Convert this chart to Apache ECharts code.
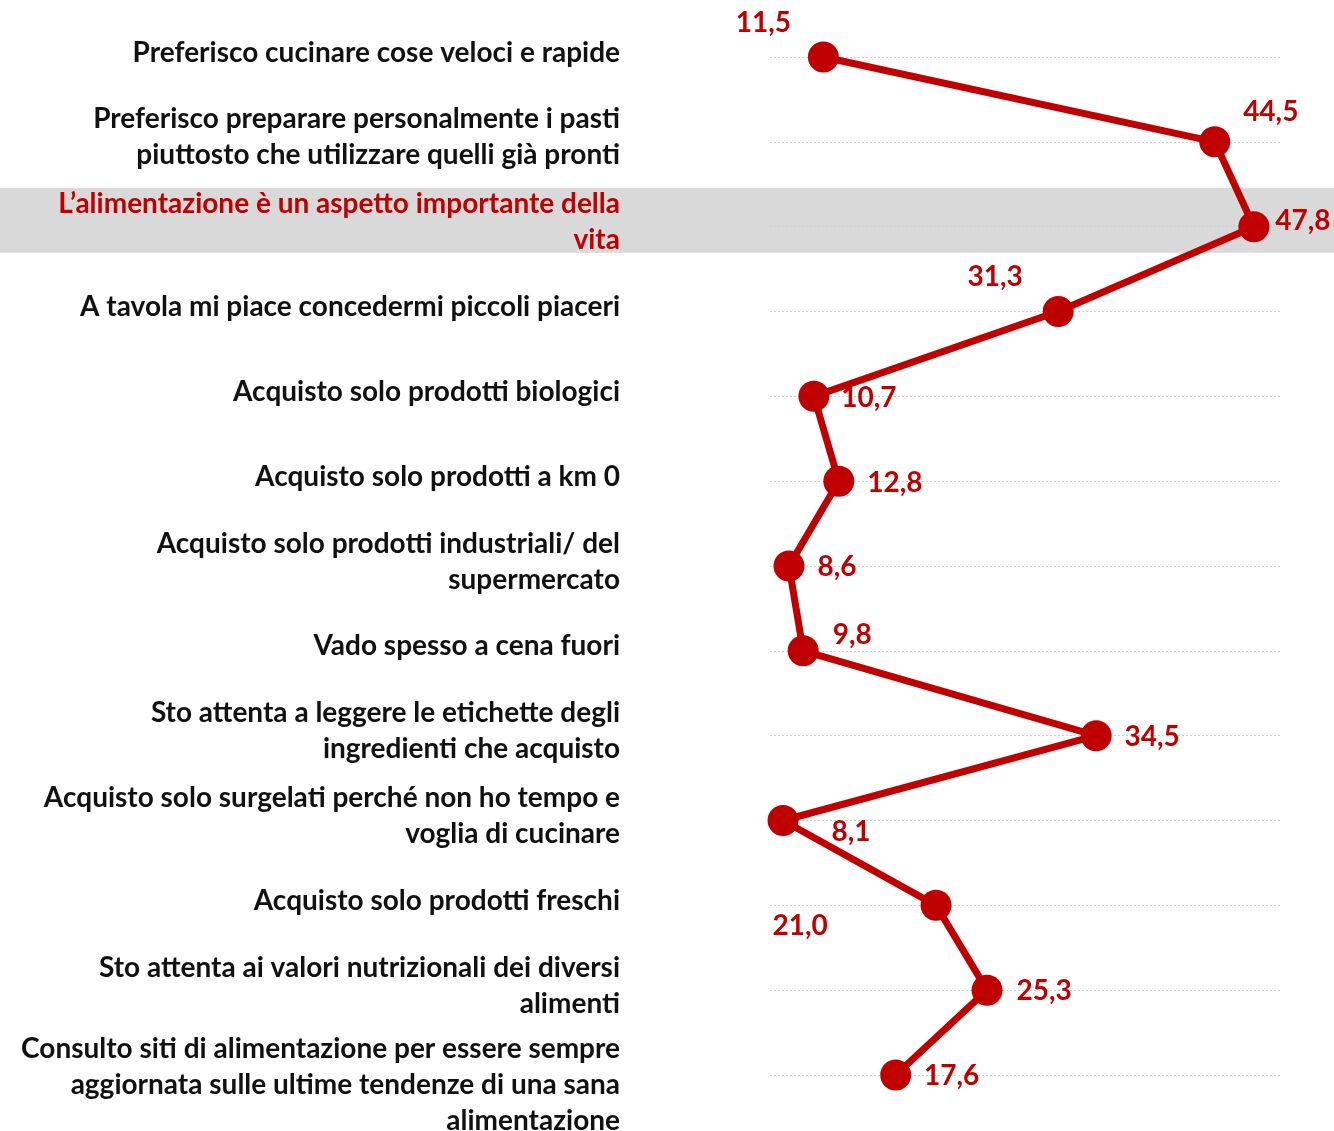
<!DOCTYPE html>
<html>
<head>
<meta charset="utf-8">
<script src="https://cdn.jsdelivr.net/npm/echarts@6/dist/echarts.min.js"></script>
<style>
  html, body { margin: 0; padding: 0; background: #ffffff; }
  #chart { width: 1334px; height: 1131px; }
</style>
</head>
<body>
<div id="chart"></div>
<script>
// Statements about food habits (top to bottom) and share of respondents (%)
const categories = [
  'Preferisco cucinare cose veloci e rapide',
  'Preferisco preparare personalmente i pasti\npiuttosto che utilizzare quelli già pronti',
  'L’alimentazione è un aspetto importante della\nvita',
  'A tavola mi piace concedermi piccoli piaceri',
  'Acquisto solo prodotti biologici',
  'Acquisto solo prodotti a km 0',
  'Acquisto solo prodotti industriali/ del\nsupermercato',
  'Vado spesso a cena fuori',
  'Sto attenta a leggere le etichette degli\ningredienti che acquisto',
  'Acquisto solo surgelati perché non ho tempo e\nvoglia di cucinare',
  'Acquisto solo prodotti freschi',
  'Sto attenta ai valori nutrizionali dei diversi\nalimenti',
  'Consulto siti di alimentazione per essere sempre\naggiornata sulle ultime tendenze di una sana\nalimentazione'
];
const values = [11.5, 44.5, 47.8, 31.3, 10.7, 12.8, 8.6, 9.8, 34.5, 8.1, 21.0, 25.3, 17.6];
const highlighted = 'L’alimentazione è un aspetto importante della\nvita';

// where each value label sits relative to its point
const labelNudge = [
  [-60, -34], [56, -30], [49, -6], [-63, -35], [55, 2], [56, 2], [48, 1],
  [49, -16], [56, 1], [68, 11], [-136, 21], [57, 1], [56, 1]
];

const RED = '#c00000';
const FONT = 'Lato';

const chart = echarts.init(document.getElementById('chart'), null, { renderer: 'canvas' });

const option = {
  animation: false,
  backgroundColor: '#ffffff',
  grid: { left: 770, right: 54, top: 57, bottom: 56, containLabel: false, outerBoundsMode: 'none' },
  xAxis: {
    type: 'value',
    min: 7,
    max: 50,
    show: false
  },
  yAxis: {
    type: 'category',
    data: categories,
    inverse: true,
    boundaryGap: false,
    axisLine: { show: false },
    axisTick: { show: false },
    splitLine: { show: true, lineStyle: { color: '#d0d0d0', type: [2, 2], width: 1 } },
    axisLabel: {
      interval: 0,
      hideOverlap: false,
      margin: 150,
      align: 'right',
      fontFamily: FONT,
      fontWeight: 'bold',
      fontSize: 28,
      lineHeight: 36,
      // short statements sit a little above their row line, the three-line one a little below
      formatter: (val) => (val.split('\n').length > 2 ? '{lead|}\n' + val : val + '\n{gap|}'),
      rich: {
        gap: { lineHeight: 9, fontSize: 1 },
        lead: { lineHeight: 20, fontSize: 1 }
      },
      color: (val) => (val === highlighted ? RED : '#111111')
    }
  },
  series: [{
    type: 'line',
    data: values.map((v, i) => ({
      value: v,
      label: { offset: labelNudge[i] }
    })),
    symbol: 'circle',
    symbolSize: 31,
    lineStyle: { color: RED, width: 7 },
    itemStyle: { color: RED },
    z: 5,
    label: {
      show: true,
      position: 'inside',
      align: 'center',
      verticalAlign: 'middle',
      color: RED,
      fontFamily: FONT,
      fontWeight: 'bold',
      fontSize: 28,
      formatter: (p) => p.value.toFixed(1).replace('.', ',')
    }
  }]
};

chart.setOption(option);

// grey band behind the highlighted statement
const idx = categories.indexOf(highlighted);
const yPix = chart.convertToPixel({ yAxisIndex: 0 }, idx);
chart.setOption({
  graphic: [{
    type: 'rect',
    z: -10,
    silent: true,
    shape: { x: 0, y: yPix - 39, width: 1334, height: 65 },
    style: { fill: '#d9d9d9' }
  }]
});
</script>
</body>
</html>
